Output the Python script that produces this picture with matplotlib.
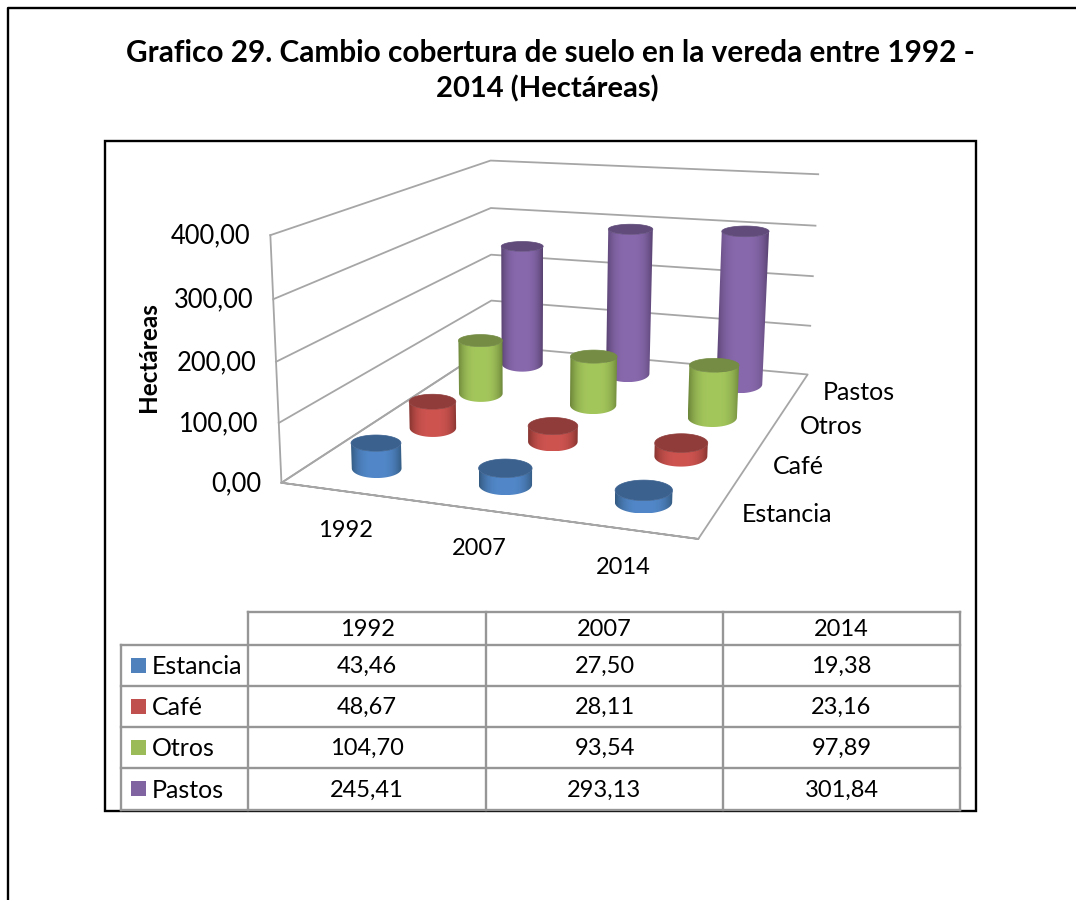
import numpy as np
import matplotlib
matplotlib.use('Agg')
import matplotlib.pyplot as plt
from matplotlib.patches import Polygon, Rectangle

plt.rcParams['font.family'] = ['Lato', 'DejaVu Sans']

years = ['1992', '2007', '2014']
series = ['Estancia', 'Café', 'Otros', 'Pastos']
estancia = [43.46, 27.50, 19.38]
cafe = [48.67, 28.11, 23.16]
otros = [104.70, 93.54, 97.89]
pastos = [245.41, 293.13, 301.84]
y_ticks = [0, 100, 200, 300, 400]
value_labels = [['43,46', '27,50', '19,38'],
                ['48,67', '28,11', '23,16'],
                ['104,70', '93,54', '97,89'],
                ['245,41', '293,13', '301,84']]
y_labels = ['0,00', '100,00', '200,00', '300,00', '400,00']
values = [estancia, cafe, otros, pastos]

# (main colour, light side, dark side, top)
colors = [('#4F81BD', '#5288CA', '#33597F', '#3B618F'),
          ('#C0504D', '#CE5450', '#84332F', '#8F3C3A'),
          ('#9BBB59', '#A4C75C', '#6B8439', '#748C43'),
          ('#8064A2', '#8869AD', '#57416F', '#604B7A')]
GRID = '#a6a6a6'
TABLE = '#969696'

fig = plt.figure(figsize=(10.76, 9), dpi=100)
ax = fig.add_axes([0, 0, 1, 1])
ax.axis('off')

# world box (x, y, z) -> picture, fitted from the corners of the walls
world = [(0, 0, 0), (3, 0, 0), (3, 4, 0), (0, 4, 0), (0, 0, 400), (0, 4, 400), (3, 4, 400)]
pict = [(282, 482), (698, 540), (808, 373), (491, 347), (270, 235), (491, 160), (818, 175)]
A, b = [], []
for (X, Y, Z), (u, v) in zip(world, pict):
    A.append([X, Y, Z, 1, 0, 0, 0, 0, -u * X, -u * Y, -u * Z])
    A.append([0, 0, 0, 0, X, Y, Z, 1, -v * X, -v * Y, -v * Z])
    b += [u, v]
P = np.append(np.linalg.lstsq(np.array(A, float), np.array(b, float), rcond=None)[0], 1).reshape(3, 4)


def proj(x, y, z):
    x, y, z = np.broadcast_arrays(x, y, z)
    p = P @ np.vstack([x.ravel(), y.ravel(), z.ravel(), np.ones(x.size)])
    return np.column_stack([p[0] / p[2], p[1] / p[2]])


# walls and floor
for i, t in enumerate(y_ticks):
    pts = proj([0, 0, 3], [0, 4, 4], [t, t, t])
    if i == 0:
        pts = proj([0, 3, 3, 0, 0, 3], [0, 0, 4, 4, 0, 0], [0, 0, 0, 0, 0, 0])
        ax.plot(pts[:, 0], pts[:, 1], color=GRID, lw=1.3, zorder=1)
        pts = proj([0, 0], [4, 0], [0, 0])
    ax.plot(pts[:, 0], pts[:, 1], color=GRID, lw=1.3, zorder=1)
    lab = proj(0, 0, t)[0]
    ax.text(lab[0] - 20, lab[1] + 1, y_labels[i], ha='right', va='center', fontsize=18.4)
edge = proj([0, 0], [0, 0], [0, 400])
ax.plot(edge[:, 0], edge[:, 1], color=GRID, lw=1.3, zorder=1)


def ring(cx, cy, z, theta):
    # flat ellipse in the picture, seen flatter the higher it sits
    c = proj(cx, cy, z)[0]
    a = np.abs(proj(cx + 0.2, cy, z)[0, 0] - proj(cx - 0.2, cy, z)[0, 0]) / 2
    ratio = 0.22 + 0.17 * np.exp(-z / 90)
    return np.column_stack([c[0] + a * np.cos(theta), c[1] + a * ratio * np.sin(theta)])


def cylinder(cx, cy, h, cols, z):
    main, light, dark, top = cols
    theta = np.linspace(0, np.pi, 61)
    low = ring(cx, cy, 0, theta)
    high = ring(cx, cy, h, theta)
    light_rgb = np.array(matplotlib.colors.to_rgb(light))
    dark_rgb = np.array(matplotlib.colors.to_rgb(dark))
    outline = np.vstack([low, high[::-1]])
    # side shading: horizontal gradient clipped to the silhouette
    u = np.linspace(-1, 1, 200)
    grad = (light_rgb + (dark_rgb - light_rgb) * (np.abs(u) ** 3)[:, None])[None, :, :]
    x0, x1 = outline[:, 0].min(), outline[:, 0].max()
    y0, y1 = outline[:, 1].min(), outline[:, 1].max()
    im = ax.imshow(grad, extent=[x0, x1, y1, y0], aspect='auto', interpolation='bilinear', zorder=z)
    im.set_clip_path(Polygon(outline, closed=True, transform=ax.transData))
    cap = ring(cx, cy, h, np.linspace(0, 2 * np.pi, 121))
    ax.add_patch(Polygon(cap, closed=True, fc=top, ec=top, lw=0.5, zorder=z + 0.5))


# back row first so front cylinders overlap the ones behind
for j in range(3, -1, -1):
    for i in range(3):
        cylinder(i + 0.5, j + 0.5, values[j][i], colors[j], 10 + (3 - j))

# category labels
for i, yr in enumerate(years):
    p = proj(i + 0.5, 0, 0)[0]
    ax.text(p[0] + 1, p[1] + 39, yr, ha='center', va='center', fontsize=17)
for j, s in enumerate(series):
    p = proj(3, j + 0.5, 0)[0]
    ax.text(p[0] + 25, p[1] + 3, s, ha='left', va='center', fontsize=18)

ax.text(149, 357, 'Hectáreas', rotation=90, ha='center', va='center', fontsize=17.5, fontweight='bold')

ax.text(550, 53, 'Grafico 29. Cambio cobertura de suelo en la vereda entre 1992 -', ha='center', va='center',
        fontsize=21.4, fontweight='bold')
ax.text(547, 89, '2014 (Hectáreas)', ha='center', va='center', fontsize=21, fontweight='bold')

# frames
ax.plot([8, 8, 1076], [900, 8, 8], color='black', lw=1.7, zorder=0)
ax.add_patch(Rectangle((105, 141), 871, 670, fc='none', ec='black', lw=1.7, zorder=0))

# data table
col_x = [121, 248, 486, 723, 960]
row_y = [612, 645, 686, 727, 768, 810]
for x in col_x[1:]:
    ax.plot([x, x], [row_y[0], row_y[-1]], color=TABLE, lw=1.7, zorder=2)
ax.plot([col_x[0]] * 2, [row_y[1], row_y[-1]], color=TABLE, lw=1.7, zorder=2)
ax.plot([col_x[1], col_x[-1]], [row_y[0]] * 2, color=TABLE, lw=1.7, zorder=2)
for y in row_y[1:]:
    ax.plot([col_x[0], col_x[-1]], [y, y], color=TABLE, lw=1.7, zorder=2)
for i, yr in enumerate(years):
    ax.text((col_x[i + 1] + col_x[i + 2]) / 2, (row_y[0] + row_y[1]) / 2 + 1, yr, ha='center', va='center', fontsize=17)
for j, s in enumerate(series):
    yc = (row_y[j + 1] + row_y[j + 2]) / 2
    ax.add_patch(Rectangle((131, yc - 8), 15, 15, fc=colors[j][0], ec='none', zorder=3))
    ax.text(152, yc + 1, s, ha='left', va='center', fontsize=18)
    for i in range(3):
        ax.text((col_x[i + 1] + col_x[i + 2]) / 2, yc + 1, value_labels[j][i], ha='center', va='center', fontsize=17)

# imshow resets the limits, so set the picture frame last
ax.set_xlim(0, 1076)
ax.set_ylim(900, 0)

fig.savefig('out.png', dpi=100, facecolor='white')
